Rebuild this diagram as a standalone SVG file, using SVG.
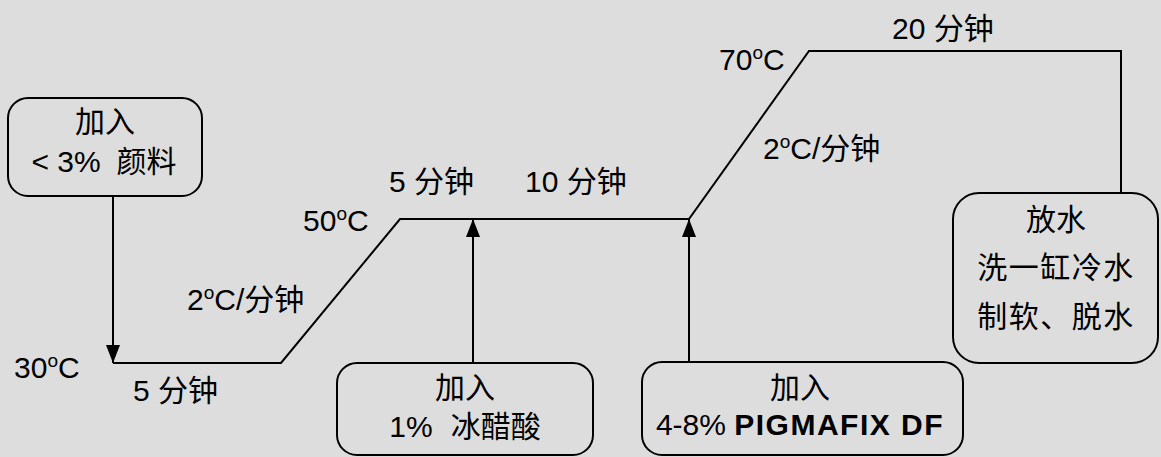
<svg xmlns="http://www.w3.org/2000/svg" width="1161" height="457" viewBox="0 0 1161 457">
<defs>
<style>
.bg{fill:#dddddd}
.box{fill:none;stroke:#000;stroke-width:2}
.ln{fill:none;stroke:#000;stroke-width:2}
text{font-family:"Liberation Sans","Noto Sans CJK SC",sans-serif;font-size:30px;fill:#000}
.c{text-anchor:middle}
.b{font-weight:bold;letter-spacing:1.5px}
</style>
<marker id="ah" markerUnits="userSpaceOnUse" markerWidth="20" markerHeight="16" refX="18" refY="7" orient="auto">
<path d="M0,0 L18,7 L0,14 Z" fill="#000"/>
</marker>
</defs>
<rect class="bg" x="0" y="0" width="1161" height="457"/>
<g id="connectors">
<polyline class="ln" points="113,363 281,363 400,219 689,219 809,51 1121,51 1121,193"/>
<line class="ln" x1="113" y1="196" x2="113" y2="363" marker-end="url(#ah)"/>
<line class="ln" x1="473" y1="363" x2="473" y2="219" marker-end="url(#ah)"/>
<line class="ln" x1="689" y1="363" x2="689" y2="219" marker-end="url(#ah)"/>
</g>
<g id="node-add-pigment">
<rect class="box" x="8" y="98" width="194" height="98" rx="20"/>
<text class="c" x="105" y="132">加入</text>
<text class="c" x="104" y="172">&lt; 3%<tspan dx="16">颜料</tspan></text>
</g>
<g id="node-add-acid">
<rect class="box" x="337" y="363" width="256" height="92" rx="20"/>
<text class="c" x="465" y="398">加入</text>
<text class="c" x="465" y="437">1%<tspan dx="18">冰醋酸</tspan></text>
</g>
<g id="node-add-pigmafix">
<rect class="box" x="642" y="362" width="321" height="93" rx="20"/>
<text class="c" x="800" y="398">加入</text>
<text class="c" x="800" y="435">4-8% <tspan class="b">PIGMAFIX DF</tspan></text>
</g>
<g id="node-drain">
<rect class="box" x="953" y="193" width="205" height="170" rx="26"/>
<text class="c" x="1056" y="230">放水</text>
<text class="c" x="1056" y="278" letter-spacing="1.5">洗一缸冷水</text>
<text class="c" x="1056" y="327" letter-spacing="1.5">制软、脱水</text>
</g>
<g id="labels">
<text x="14" y="378">30<tspan font-size="19" dy="-11">o</tspan><tspan dy="11">C</tspan></text>
<text x="133" y="401">5 分钟</text>
<text x="187" y="310">2<tspan font-size="19" dy="-11">o</tspan><tspan dy="11">C/分钟</tspan></text>
<text x="303" y="231">50<tspan font-size="19" dy="-11">o</tspan><tspan dy="11">C</tspan></text>
<text x="389" y="192">5 分钟</text>
<text x="525" y="192">10 分钟</text>
<text x="719" y="70">70<tspan font-size="19" dy="-11">o</tspan><tspan dy="11">C</tspan></text>
<text x="763" y="159">2<tspan font-size="19" dy="-11">o</tspan><tspan dy="11">C/分钟</tspan></text>
<text x="892" y="39">20 分钟</text>
</g>
</svg>
